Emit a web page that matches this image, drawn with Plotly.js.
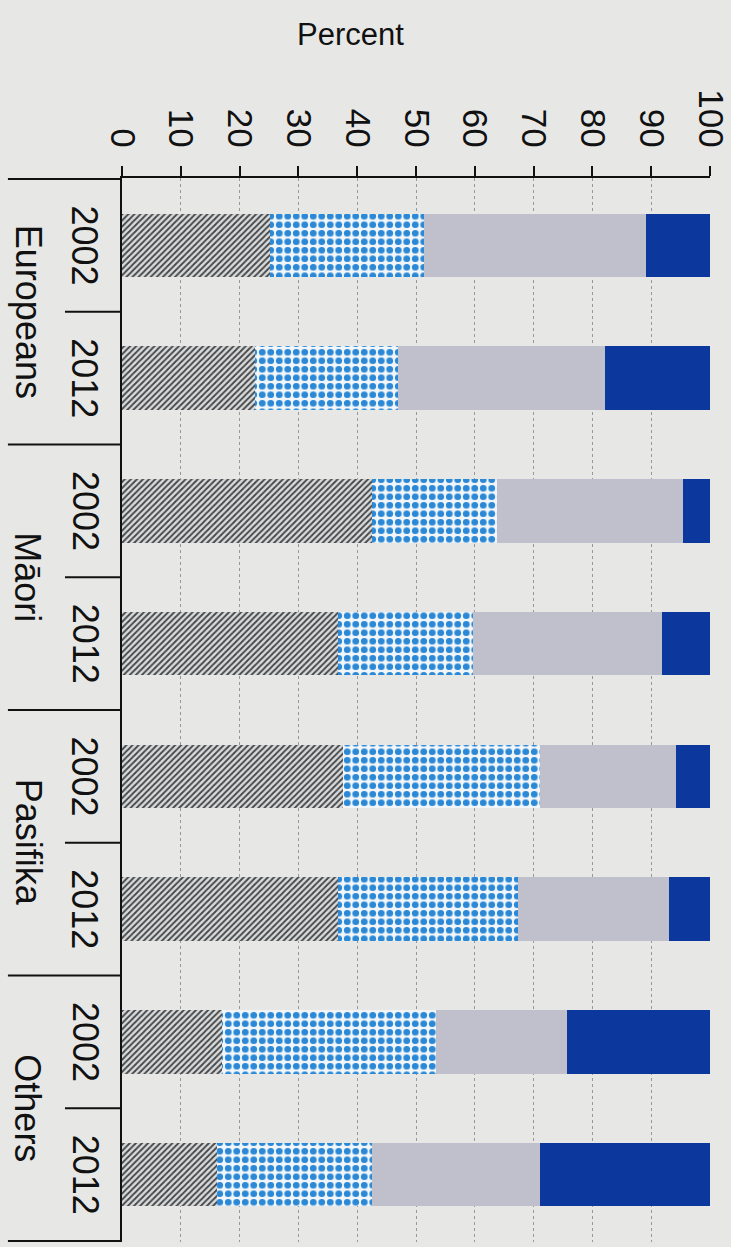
<!DOCTYPE html>
<html>
<head>
<meta charset="utf-8">
<script src="https://cdn.plot.ly/plotly-3.0.1.min.js"></script>
<style>
html,body{margin:0;padding:0;background:#e7e8e6;}
#chart{width:731px;height:1247px;}
</style>
</head>
<body>
<div id="chart"></div>
<script>
// Data
var groups = ["Europeans", "Māori", "Pasifika", "Others"];
var years = ["2002", "2012"];
var seg1 = [25.2, 22.6, 42.5, 36.7, 37.6, 36.7, 17.0, 16.2];
var seg2 = [26.2, 24.3, 21.3, 23.0, 33.5, 30.6, 36.4, 26.3];
var seg3 = [37.7, 35.2, 31.6, 32.1, 23.1, 25.7, 22.3, 28.6];
var seg4 = [10.9, 17.9, 4.6, 8.2, 5.8, 7.0, 24.3, 28.9];
var xTicks = [0, 10, 20, 30, 40, 50, 60, 70, 80, 90, 100];

// category keys
var cats = [];
groups.forEach(function (g) { years.forEach(function (y) { cats.push(g + " " + y); }); });

var BW = 0.48;
var traces = [
  {y: cats, x: seg1, type: 'bar', orientation: 'h', width: BW,
   marker: {color: '#d9dcda', line: {width: 0},
            pattern: {shape: '/', fgcolor: '#45474b', bgcolor: '#d9dcda', size: 4.3, solidity: 0.45}}},
  {y: cats, x: seg2, type: 'bar', orientation: 'h', width: BW,
   marker: {color: '#f3f6f8', line: {width: 0},
            pattern: {shape: '.', fgcolor: '#2a88d6', bgcolor: '#f3f6f8', size: 8.5, solidity: 0.5}}},
  {y: cats, x: seg3, type: 'bar', orientation: 'h', width: BW,
   marker: {color: '#c0c0cd', line: {width: 0}}},
  {y: cats, x: seg4, type: 'bar', orientation: 'h', width: BW,
   marker: {color: '#0c389e', line: {width: 0}}}
];

var FONT = 'Liberation Sans, Arial, sans-serif';
var annotations = [];
var shapes = [];

// year labels and group labels
cats.forEach(function (c, i) {
  annotations.push({xref: 'paper', yref: 'y', x: -0.063, y: c, text: years[i % 2],
    showarrow: false, textangle: 90, xanchor: 'center', yanchor: 'middle',
    font: {family: FONT, size: 36, color: '#111'}});
});
groups.forEach(function (g, gi) {
  annotations.push({xref: 'paper', yref: 'y', x: -0.16, y: gi * 2 + 0.5, text: g,
    showarrow: false, textangle: 90, xanchor: 'center', yanchor: 'middle',
    font: {family: FONT, size: 36, color: '#111'}});
  // group separator (top boundary of each group)
  shapes.push({type: 'line', xref: 'paper', yref: 'y', x0: -0.194, x1: 0, y0: gi * 2 - 0.5, y1: gi * 2 - 0.5,
    line: {color: '#111', width: 2}});
  // year separator
  shapes.push({type: 'line', xref: 'paper', yref: 'y', x0: -0.097, x1: 0, y0: gi * 2 + 0.5, y1: gi * 2 + 0.5,
    line: {color: '#111', width: 2}});
});
shapes.push({type: 'line', xref: 'paper', yref: 'y', x0: -0.194, x1: 0, y0: cats.length - 0.5, y1: cats.length - 0.5,
  line: {color: '#111', width: 2}});

// axis title
annotations.push({xref: 'paper', yref: 'paper', x: 0.389, y: 1, yshift: 144, text: 'Percent',
  showarrow: false, xanchor: 'center', yanchor: 'middle',
  font: {family: FONT, size: 31, color: '#111'}});

var layout = {
  width: 731, height: 1247,
  margin: {l: 122, r: 21, t: 178, b: 5, pad: 0},
  paper_bgcolor: '#e7e8e6', plot_bgcolor: '#e7e8e6',
  barmode: 'stack', showlegend: false,
  font: {family: FONT, color: '#111'},
  xaxis: {side: 'top', range: [0, 100], tickvals: xTicks, ticktext: xTicks.map(String),
    tickangle: 90, tickfont: {family: FONT, size: 35, color: '#111'}, ticklabelstandoff: 6,
    ticks: 'outside', ticklen: 10, tickwidth: 2, tickcolor: '#111',
    showline: true, linecolor: '#111', linewidth: 2,
    showgrid: true, gridcolor: '#96989c', gridwidth: 1, griddash: 'dot',
    zeroline: false, fixedrange: true},
  yaxis: {type: 'category', categoryorder: 'array', categoryarray: cats,
    autorange: 'reversed', showticklabels: false, ticks: '',
    showline: true, linecolor: '#111', linewidth: 2, showgrid: false, zeroline: false},
  annotations: annotations,
  shapes: shapes
};

Plotly.newPlot('chart', traces, layout, {displayModeBar: false, staticPlot: true});
</script>
</body>
</html>
